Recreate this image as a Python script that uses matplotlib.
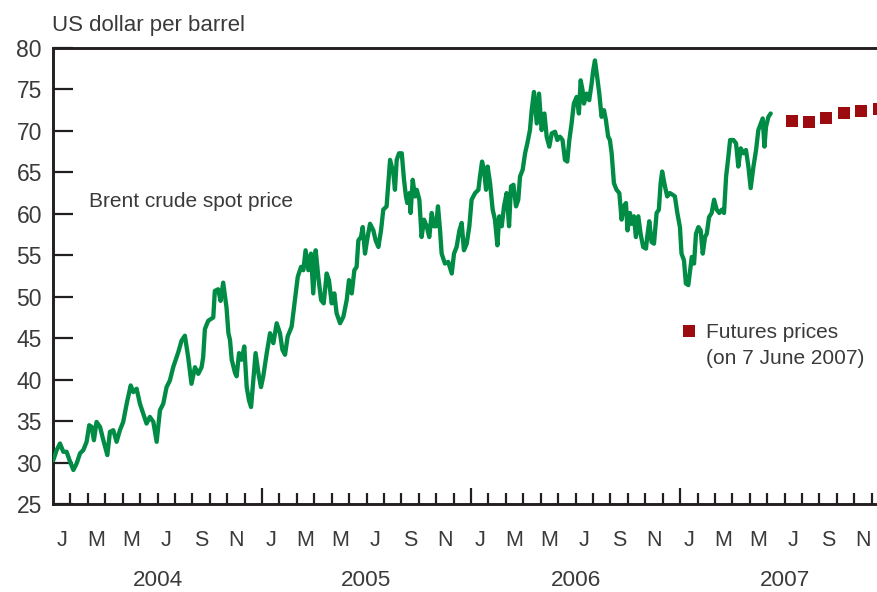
import matplotlib
matplotlib.use("Agg")
import matplotlib.pyplot as plt
from matplotlib.transforms import blended_transform_factory

plt.rcParams['font.family'] = ['Liberation Sans', 'DejaVu Sans']

# ---- data (x = months since 1 Jan 2004) ----
spot_month = [
    0.02, 0.21, 0.40, 0.59, 0.78, 0.98, 1.17, 1.36, 1.55, 1.74, 1.93, 2.08, 2.22, 2.35, 2.50,
    2.70, 2.89, 3.12, 3.27, 3.46, 3.65, 3.84, 4.03, 4.23, 4.46, 4.61, 4.80, 4.99, 5.18, 5.37,
    5.56, 5.76, 5.95, 6.14, 6.33, 6.52, 6.71, 6.90, 7.19, 7.38, 7.57, 7.76, 7.95, 8.15, 8.34,
    8.53, 8.62, 8.72, 8.91, 9.20, 9.29, 9.48, 9.62, 9.77, 9.96,
    10.07, 10.16, 10.26, 10.45, 10.54, 10.68, 10.83, 10.98, 11.12, 11.25, 11.37, 11.50, 11.63,
    11.79, 11.94, 12.07, 12.27, 12.46, 12.65, 12.84, 13.03, 13.17, 13.32, 13.47, 13.70, 13.89,
    14.05, 14.24, 14.37, 14.50, 14.66, 14.81, 14.94, 15.08, 15.23, 15.39, 15.54, 15.71, 15.84,
    16.00, 16.15, 16.28, 16.48, 16.67, 16.86, 16.99, 17.15, 17.30, 17.43, 17.53, 17.68, 17.78,
    17.91, 18.06, 18.20, 18.39, 18.52, 18.68, 18.83, 18.96, 19.15, 19.25, 19.35, 19.54, 19.63,
    19.73, 19.86, 20.02,
    20.15, 20.26, 20.34, 20.46, 20.53, 20.65, 20.78, 20.88, 21.03, 21.16, 21.30, 21.45, 21.60,
    21.74, 21.87, 21.99, 22.10, 22.22, 22.31, 22.50, 22.69, 22.89, 23.02, 23.17, 23.33, 23.46,
    23.59, 23.75, 23.90, 24.03, 24.23, 24.42, 24.51, 24.63, 24.74, 24.86, 24.95, 25.09, 25.24,
    25.37, 25.51, 25.62, 25.76, 25.89, 26.04, 26.18, 26.29, 26.43, 26.58, 26.71, 26.81, 26.96,
    27.10, 27.23, 27.38, 27.48, 27.61, 27.77, 27.90, 28.05, 28.21, 28.34, 28.49, 28.63, 28.82,
    28.95, 29.10,
    29.25, 29.39, 29.52, 29.64, 29.77, 29.90, 30.06, 30.19, 30.29, 30.40, 30.48, 30.63, 30.78,
    30.92, 31.01, 31.11, 31.24, 31.36, 31.49, 31.63, 31.74, 31.87, 31.97, 32.07, 32.20, 32.35,
    32.51, 32.64, 32.77, 32.89, 32.98, 33.12, 33.21, 33.35, 33.46, 33.60, 33.73, 33.88, 34.04,
    34.11, 34.23, 34.36, 34.50, 34.65, 34.78, 34.88, 34.97, 35.13, 35.26, 35.41, 35.57, 35.70,
    35.84, 35.99, 36.08, 36.22, 36.33, 36.47,
    36.67, 36.80, 36.91, 37.05, 37.18, 37.30, 37.43, 37.53, 37.66, 37.81, 37.95, 38.10, 38.25,
    38.39, 38.52, 38.64, 38.77, 38.87, 39.06, 39.21, 39.34, 39.48, 39.63, 39.78, 39.92, 40.05,
    40.21, 40.36, 40.49, 40.63, 40.74, 40.84, 40.93, 41.07, 41.20,
]
spot_price = [
    30.3, 31.5, 32.3, 31.3, 31.3, 30.1, 29.1, 29.9, 31.1, 31.5, 32.5, 34.5, 34.3, 32.7, 34.9,
    34.3, 32.7, 30.9, 33.7, 33.9, 32.5, 33.9, 34.9, 37.1, 39.3, 38.5, 38.9, 37.1, 35.9, 34.7,
    35.5, 34.9, 32.5, 36.3, 37.1, 39.1, 39.9, 41.5, 43.3, 44.7, 45.3, 42.7, 39.5, 41.5, 40.7,
    41.5, 42.7, 46.1, 47.1, 47.5, 50.7, 50.9, 49.5, 51.7, 48.7,
    45.6, 44.8, 42.4, 40.8, 40.4, 43.2, 42.4, 44.0, 39.1, 37.5, 36.7, 39.9, 43.2,
    40.8, 39.1, 40.4, 43.2, 45.6, 44.4, 46.8, 45.6, 43.6, 43.0, 45.2, 46.4, 49.6,
    52.4, 53.6, 53.2, 55.6, 53.2, 55.2, 50.4, 55.6, 52.4, 49.6, 49.2, 52.8, 52.0,
    49.2, 50.4, 48.0, 46.8, 47.6, 49.6, 52.0, 50.4, 53.2, 53.6, 56.8, 57.2, 58.4,
    55.2, 57.2, 58.8, 58.0, 56.8, 56.0, 58.0, 60.5, 60.9, 63.7, 66.5, 64.9, 62.9,
    66.5, 67.3, 67.3,
    64.1, 62.1, 61.3, 62.5, 60.1, 64.1, 62.1, 62.9, 61.7, 57.2, 59.3, 58.5, 57.2,
    60.1, 58.5, 58.5, 60.9, 58.0, 55.2, 54.0, 54.2, 52.8, 55.2, 56.0, 58.0, 58.9,
    55.6, 56.4, 58.5, 61.7, 62.5, 62.9, 64.5, 66.3, 65.3, 62.9, 65.7, 63.7, 60.5,
    59.3, 56.2, 59.7, 58.5, 60.9, 62.5, 58.5, 63.3, 63.5, 60.9, 61.7, 64.5, 65.3,
    67.3, 68.5, 70.1, 72.5, 74.7, 70.9, 74.5, 70.1, 72.1, 69.3, 68.1, 69.7, 69.9,
    68.9, 69.3,
    68.9, 66.5, 66.3, 68.9, 70.9, 73.3, 74.1, 72.1, 76.1, 74.9, 73.3, 74.5, 73.7,
    75.7, 77.3, 78.5, 76.5, 74.5, 71.7, 72.5, 71.3, 69.3, 68.9, 67.3, 63.7, 62.9,
    62.5, 59.3, 60.9, 61.3, 58.0, 60.1, 58.8, 59.7, 57.2, 59.7, 57.6, 56.0, 55.8,
    57.2, 59.1, 56.6, 56.4, 60.1, 60.5, 63.7, 65.1, 63.3, 62.1, 62.5, 62.3, 62.1,
    60.1, 58.4, 55.2, 54.4, 51.6, 51.4,
    54.8, 54.0, 57.6, 58.4, 58.0, 55.2, 57.2, 57.6, 59.6, 60.1, 61.7, 60.5, 60.1,
    60.5, 60.1, 64.5, 66.9, 68.9, 68.9, 68.5, 65.7, 67.9, 67.3, 67.7, 65.7, 63.1,
    65.7, 67.7, 70.1, 70.9, 71.5, 68.1, 70.5, 71.7, 72.1,
]

futures_month = [42.4, 43.4, 44.4, 45.4, 46.4, 47.4]
futures_price = [71.2, 71.1, 71.6, 72.1, 72.4, 72.7]

month_labels = ['J', 'M', 'M', 'J', 'S', 'N']
years = ['2004', '2005', '2006', '2007']
y_ticks = [25, 30, 35, 40, 45, 50, 55, 60, 65, 70, 75, 80]

# ---- styling ----
GREEN = '#008c45'
RED = '#9b0b10'
TEXT = '#3a3a3a'
AXC = '#231f20'

W, H = 878, 592
fig = plt.figure(figsize=(W / 100, H / 100), dpi=100)
L, R, T, B = 53, 878, 48, 504
ax = fig.add_axes([L / W, 1 - B / H, (R - L) / W, (B - T) / H])

px_per_month = 17.42
ax.set_xlim(0, (R - L) / px_per_month)
ax.set_ylim(25, 80)

ax.plot(spot_month, spot_price, color=GREEN, lw=3.1, solid_joinstyle='round',
        solid_capstyle='round', zorder=3)
ax.plot(futures_month, futures_price, linestyle='none', marker='s', ms=8.6,
        color=RED, markeredgewidth=0, zorder=3, clip_on=False)

for s in ['left', 'bottom', 'top']:
    ax.spines[s].set_linewidth(2.1)
    ax.spines[s].set_color(AXC)
ax.spines['right'].set_visible(False)

ax.set_yticks(y_ticks)
ax.set_yticklabels([str(v) for v in y_ticks])
ax.tick_params(axis='y', direction='in', length=14.4, width=1.6, color=AXC,
               labelsize=16.5, labelcolor=TEXT, pad=8)

nmonths = 48
major = [12, 24, 36]
minor = [m for m in range(1, nmonths) if m not in major]
ax.set_xticks(major)
ax.set_xticks(minor, minor=True)
ax.set_xticklabels([])
ax.tick_params(axis='x', which='major', direction='in', length=11.5, width=1.6,
               color=AXC, labelbottom=False)
ax.tick_params(axis='x', which='minor', direction='in', length=8.0, width=1.6,
               color=AXC, labelbottom=False)

tr = blended_transform_factory(ax.transData, ax.transAxes)
for yi, yr in enumerate(years):
    for k, lab in enumerate(month_labels):
        m = yi * 12 + 2 * k + 0.5
        ax.text(m, (B - 546) / (B - T), lab, transform=tr, ha='center',
                va='baseline', fontsize=15.5, color=TEXT, clip_on=False)
    ax.text(yi * 12 + 6, (B - 586) / (B - T), yr, transform=tr, ha='center',
            va='baseline', fontsize=16.2, color=TEXT, clip_on=False)

fig.text(52 / W, 1 - 31.5 / H, 'US dollar per barrel', ha='left', va='baseline',
         fontsize=16, color=TEXT)

ax.text((89 - L) / (R - L), (B - 207) / (B - T), 'Brent crude spot price',
        transform=ax.transAxes, ha='left', va='baseline', fontsize=15, color=TEXT)

ax.plot([(689 - L) / (R - L)], [(B - 331) / (B - T)], marker='s', ms=8.6,
        color=RED, markeredgewidth=0, transform=ax.transAxes, linestyle='none')
ax.text((706 - L) / (R - L), (B - 338) / (B - T), 'Futures prices',
        transform=ax.transAxes, ha='left', va='baseline', fontsize=15, color=TEXT)
ax.text((706 - L) / (R - L), (B - 364) / (B - T), '(on 7 June 2007)',
        transform=ax.transAxes, ha='left', va='baseline', fontsize=15, color=TEXT)

fig.savefig('out.png', dpi=100)
